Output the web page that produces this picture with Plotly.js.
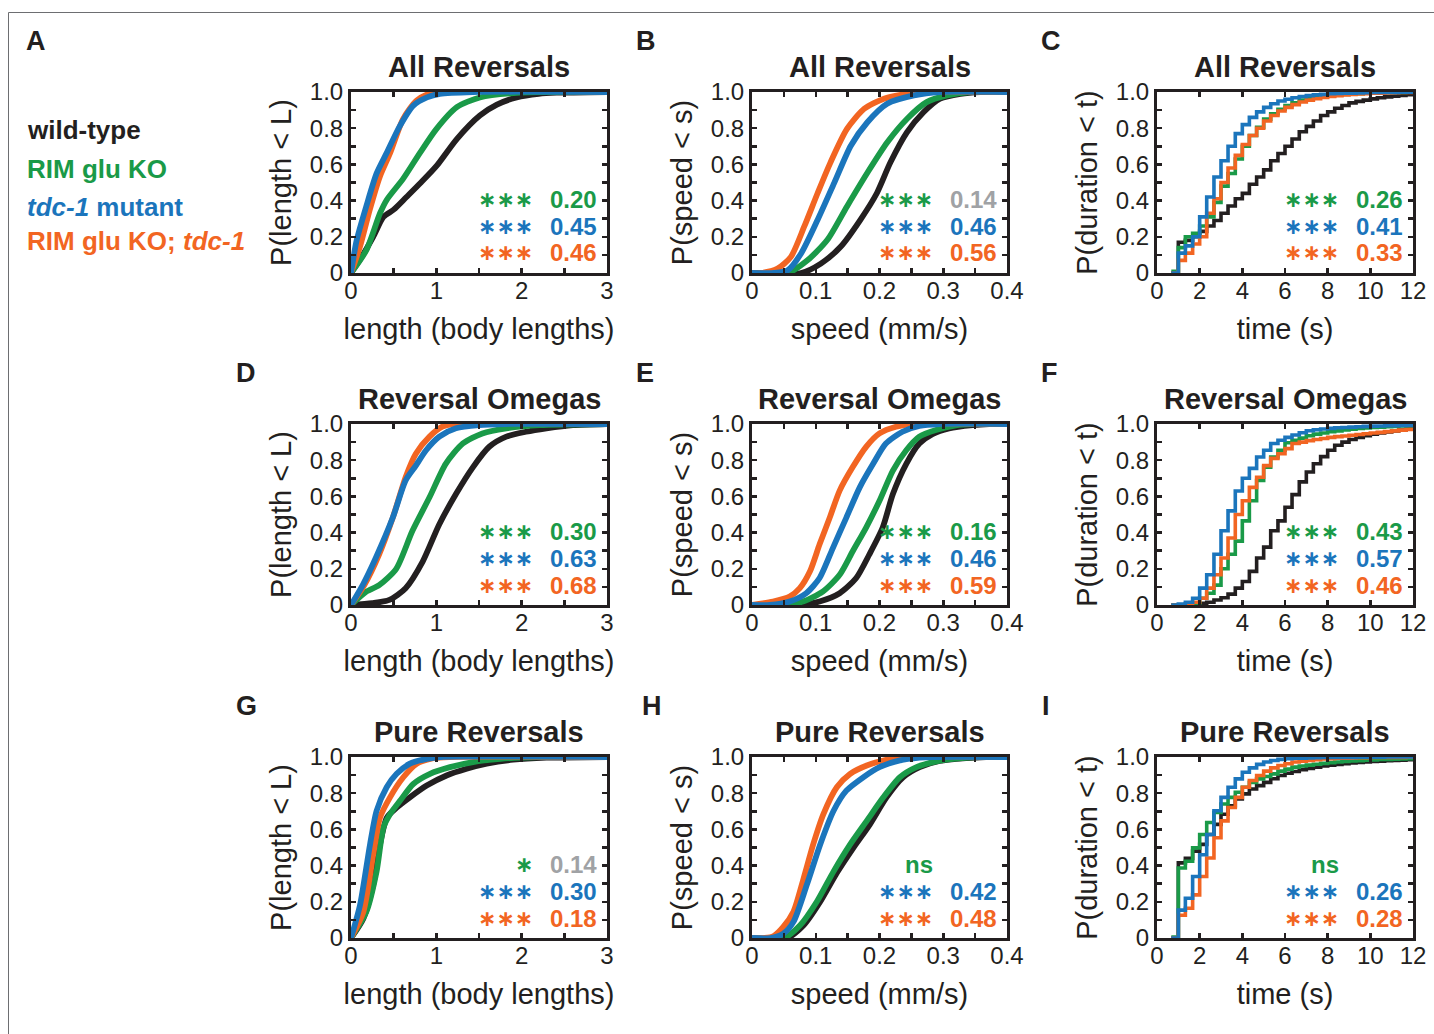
<!DOCTYPE html>
<html>
<head>
<meta charset="utf-8">
<script src="https://cdn.plot.ly/plotly-3.0.1.min.js"></script>
<style>html,body{margin:0;padding:0;background:#fff;}#chart{width:1434px;height:1034px;}</style>
</head>
<body>
<div id="chart"></div>
<script>
// ---------------- DATA ----------------
const genotypes = ['wild-type', 'RIM glu KO', 'tdc-1 mutant', 'RIM glu KO; tdc-1'];
const panelLetters = ['A','B','C','D','E','F','G','H','I'];
const rowTitles = ['All Reversals', 'Reversal Omegas', 'Pure Reversals'];
const xTitles = ['length (body lengths)', 'speed (mm/s)', 'time (s)'];
const yTitles = ['P(length &lt; L)', 'P(speed &lt; s)', 'P(duration &lt; t)'];

const lengthTicks = [0, 0.5, 1, 1.5, 2, 2.5, 3];
const lengthTickText = ['0', '', '1', '', '2', '', '3'];
const speedTicks = [0, 0.05, 0.1, 0.15, 0.2, 0.25, 0.3, 0.35, 0.4];
const speedTickText = ['0', '', '0.1', '', '0.2', '', '0.3', '', '0.4'];
const timeTicks = [0, 2, 4, 6, 8, 10, 12];
const probTicks = [0, 0.1, 0.2, 0.3, 0.4, 0.5, 0.6, 0.7, 0.8, 0.9, 1];
const probTickText = ['0', '', '0.2', '', '0.4', '', '0.6', '', '0.8', '', '1.0'];

// Panel A: length, All Reversals
const A_wt_x  = [0,0.1,0.26,0.38,0.5,0.65,0.82,1.0,1.24,1.51,1.71,1.94,2.2,2.41,3.0];
const A_wt_y  = [0,0.07,0.2,0.31,0.35,0.42,0.5,0.59,0.74,0.87,0.93,0.97,0.99,0.996,1];
const A_glu_x = [0,0.18,0.34,0.42,0.61,0.81,1.0,1.24,1.51,1.98,3.0];
const A_glu_y = [0,0.126,0.33,0.405,0.52,0.665,0.795,0.916,0.97,0.996,1];
const A_tdc_x = [0,0.066,0.18,0.3,0.42,0.57,0.73,0.89,1.04,1.43,3.0];
const A_tdc_y = [0,0.18,0.37,0.55,0.665,0.81,0.925,0.97,0.99,1,1];
const A_dbl_x = [0,0.105,0.22,0.34,0.46,0.61,0.77,0.96,3.0];
const A_dbl_y = [0,0.145,0.35,0.535,0.665,0.85,0.953,0.996,1];

// Panel B: speed, All Reversals
const B_wt_x  = [0,0.077,0.108,0.139,0.17,0.196,0.217,0.243,0.269,0.295,0.327,0.358,0.4];
const B_wt_y  = [0,0,0.052,0.145,0.294,0.442,0.61,0.777,0.888,0.963,0.99,1,1];
const B_glu_x = [0,0.056,0.087,0.118,0.149,0.181,0.212,0.243,0.274,0.306,0.342,0.4];
const B_glu_y = [0,0,0.07,0.182,0.368,0.554,0.721,0.851,0.944,0.981,1,1];
const B_tdc_x = [0,0.035,0.056,0.077,0.103,0.129,0.155,0.181,0.212,0.254,0.295,0.4];
const B_tdc_y = [0,0,0.015,0.108,0.294,0.498,0.703,0.833,0.935,0.981,1,1];
const B_dbl_x = [0,0.014,0.04,0.061,0.082,0.103,0.123,0.149,0.176,0.207,0.243,0.269,0.4];
const B_dbl_y = [0,0,0.024,0.089,0.257,0.442,0.61,0.796,0.907,0.963,0.99,1,1];

// Duration step times (s), shared by panels C, F, I
const durSteps = [0.67,1,1.33,1.67,2,2.33,2.67,3,3.33,3.67,4,4.33,4.67,5,5.33,5.67,6,6.33,6.67,7,7.33,7.67,8,8.33,8.67,9,9.33,9.67,10,10.33,10.67,11,11.33,11.67,12];

// Panel C: duration, All Reversals
const C_wt  = [0,0.17,0.18,0.20,0.23,0.26,0.29,0.33,0.37,0.41,0.44,0.49,0.53,0.57,0.62,0.66,0.70,0.74,0.78,0.81,0.84,0.87,0.89,0.91,0.925,0.94,0.948,0.955,0.962,0.968,0.973,0.977,0.981,0.985,0.988];
const C_glu = [0.01,0.14,0.20,0.22,0.26,0.31,0.39,0.48,0.55,0.63,0.70,0.76,0.805,0.85,0.88,0.905,0.925,0.94,0.955,0.965,0.972,0.977,0.981,0.984,0.987,0.989,0.991,0.993,0.994,0.995,0.996,0.997,0.998,0.999,1];
const C_tdc = [0,0.11,0.15,0.20,0.31,0.42,0.53,0.62,0.70,0.77,0.82,0.86,0.89,0.915,0.935,0.95,0.96,0.968,0.975,0.98,0.984,0.987,0.99,0.992,0.993,0.994,0.995,0.996,0.997,0.997,0.998,0.998,0.999,0.999,1];
const C_dbl = [0,0.07,0.11,0.16,0.20,0.33,0.41,0.50,0.58,0.65,0.71,0.76,0.80,0.84,0.87,0.895,0.915,0.93,0.945,0.955,0.963,0.97,0.975,0.98,0.984,0.987,0.989,0.991,0.993,0.994,0.995,0.996,0.997,0.998,0.999];

// Panel D: length, Reversal Omegas
const D_wt_x  = [0,0.25,0.45,0.64,0.84,1.035,1.23,1.43,1.62,1.82,2.05,2.29,2.6,3.0];
const D_wt_y  = [0,0.01,0.028,0.093,0.24,0.446,0.613,0.762,0.874,0.93,0.957,0.976,0.994,1];
const D_glu_x = [0,0.18,0.33,0.53,0.72,0.92,1.11,1.31,1.54,1.82,2.21,3.0];
const D_glu_y = [0,0.074,0.11,0.2,0.41,0.595,0.78,0.892,0.948,0.976,0.994,1];
const D_tdc_x = [0,0.137,0.29,0.49,0.64,0.76,0.88,1.035,1.23,1.5,1.8,3.0];
const D_tdc_y = [0,0.11,0.26,0.483,0.688,0.77,0.855,0.93,0.976,0.994,1,1];
const D_dbl_x = [0,0.156,0.33,0.49,0.64,0.76,0.92,1.07,1.19,3.0];
const D_dbl_y = [0,0.11,0.28,0.483,0.706,0.836,0.93,0.985,1,1];

// Panel E: speed, Reversal Omegas
const E_wt_x  = [0,0.075,0.106,0.1375,0.1635,0.184,0.205,0.221,0.242,0.2625,0.283,0.309,0.346,0.372,0.4];
const E_wt_y  = [0,0,0.019,0.065,0.149,0.279,0.428,0.613,0.78,0.892,0.944,0.976,0.994,1,1];
const E_glu_x = [0,0.049,0.08,0.111,0.1375,0.158,0.179,0.2,0.221,0.242,0.2625,0.2885,0.32,0.345,0.4];
const E_glu_y = [0,0,0.019,0.074,0.167,0.297,0.428,0.576,0.743,0.855,0.93,0.967,0.993,1,1];
const E_tdc_x = [0,0.028,0.059,0.085,0.106,0.127,0.148,0.169,0.19,0.21,0.236,0.2625,0.294,0.4];
const E_tdc_y = [0,0,0.019,0.065,0.149,0.316,0.483,0.65,0.78,0.892,0.957,0.989,1,1];
const E_dbl_x = [0,0.033,0.059,0.075,0.091,0.106,0.122,0.1375,0.158,0.179,0.2,0.226,0.252,0.4];
const E_dbl_y = [0,0.019,0.046,0.093,0.186,0.335,0.483,0.632,0.762,0.874,0.948,0.985,1,1];

// Panel F: duration, Reversal Omegas
const F_wt  = [0,0,0.003,0.006,0.01,0.015,0.028,0.04,0.06,0.093,0.13,0.186,0.26,0.32,0.41,0.465,0.54,0.61,0.68,0.735,0.78,0.82,0.855,0.883,0.90,0.914,0.925,0.935,0.943,0.95,0.956,0.962,0.967,0.972,0.976];
const F_glu = [0,0,0.003,0.01,0.037,0.065,0.11,0.20,0.28,0.353,0.465,0.576,0.688,0.762,0.818,0.855,0.896,0.91,0.922,0.935,0.944,0.95,0.957,0.962,0.967,0.971,0.975,0.978,0.981,0.983,0.985,0.987,0.989,0.991,0.993];
const F_tdc = [0,0.005,0.015,0.037,0.093,0.167,0.28,0.41,0.52,0.63,0.70,0.755,0.818,0.855,0.892,0.91,0.926,0.939,0.952,0.963,0.968,0.972,0.976,0.979,0.981,0.983,0.985,0.987,0.988,0.989,0.99,0.991,0.992,0.993,0.994];
const F_dbl = [0,0,0.005,0.015,0.037,0.093,0.167,0.26,0.37,0.50,0.576,0.65,0.706,0.77,0.81,0.836,0.864,0.892,0.90,0.908,0.914,0.92,0.926,0.93,0.934,0.938,0.942,0.946,0.95,0.954,0.958,0.962,0.966,0.97,0.974];

// Panel G: length, Pure Reversals
const G_wt_x  = [0,0.145,0.26,0.34,0.42,0.535,0.69,0.887,1.12,1.355,1.59,1.9,2.29,3.0];
const G_wt_y  = [0,0.108,0.294,0.517,0.665,0.72,0.777,0.842,0.898,0.935,0.963,0.985,0.996,1];
const G_glu_x = [0,0.18,0.3,0.38,0.457,0.574,0.73,0.926,1.16,1.43,1.75,2.2,3.0];
const G_glu_y = [0,0.145,0.368,0.61,0.684,0.758,0.851,0.907,0.944,0.972,0.99,1,1];
const G_tdc_x = [0,0.105,0.223,0.3,0.418,0.535,0.69,0.887,1.05,3.0];
const G_tdc_y = [0,0.18,0.517,0.703,0.833,0.907,0.963,0.99,1,1];
const G_dbl_x = [0,0.145,0.26,0.34,0.457,0.613,0.77,0.965,1.15,3.0];
const G_dbl_y = [0,0.145,0.46,0.665,0.777,0.888,0.963,0.993,1,1];

// Panel H: speed, Pure Reversals
const H_wt_x  = [0,0.055,0.081,0.107,0.133,0.159,0.185,0.211,0.237,0.263,0.294,0.336,0.367,0.4];
const H_wt_y  = [0,0,0.07,0.2,0.359,0.498,0.628,0.777,0.888,0.944,0.978,0.994,1,1];
const H_glu_x = [0,0.05,0.0755,0.1016,0.128,0.154,0.18,0.206,0.232,0.258,0.284,0.315,0.357,0.4];
const H_glu_y = [0,0,0.07,0.2,0.368,0.517,0.647,0.777,0.888,0.944,0.972,0.99,1,1];
const H_tdc_x = [0,0.029,0.049,0.065,0.086,0.107,0.128,0.148,0.1745,0.2,0.232,0.263,0.284,0.4];
const H_tdc_y = [0,0,0.024,0.089,0.294,0.517,0.703,0.814,0.888,0.944,0.981,0.996,1,1];
const H_dbl_x = [0,0.02,0.034,0.049,0.065,0.081,0.096,0.112,0.133,0.154,0.18,0.211,0.237,0.4];
const H_dbl_y = [0,0,0.011,0.061,0.145,0.33,0.517,0.684,0.833,0.907,0.953,0.985,1,1];

// Panel I: duration, Pure Reversals
const I_wt  = [0,0.415,0.44,0.48,0.517,0.572,0.628,0.684,0.73,0.768,0.796,0.823,0.842,0.86,0.88,0.898,0.91,0.92,0.93,0.937,0.944,0.95,0.955,0.959,0.963,0.967,0.97,0.972,0.975,0.977,0.979,0.981,0.983,0.985,0.987];
const I_glu = [0.005,0.387,0.424,0.498,0.572,0.638,0.693,0.74,0.777,0.805,0.833,0.86,0.879,0.892,0.907,0.922,0.933,0.944,0.95,0.955,0.96,0.965,0.969,0.972,0.975,0.978,0.98,0.982,0.984,0.986,0.987,0.988,0.989,0.99,0.991];
const I_tdc = [0,0.154,0.22,0.34,0.46,0.572,0.703,0.777,0.833,0.879,0.916,0.94,0.959,0.972,0.981,0.987,0.99,0.993,0.994,0.995,0.996,0.997,0.997,0.998,0.998,0.998,0.999,0.999,0.999,0.999,1,1,1,1,1];
const I_dbl = [0,0.126,0.164,0.238,0.34,0.442,0.554,0.647,0.721,0.777,0.833,0.87,0.898,0.922,0.94,0.953,0.963,0.972,0.977,0.981,0.985,0.989,0.991,0.993,0.994,0.995,0.996,0.996,0.997,0.997,0.998,0.998,0.998,0.999,0.999];

// Significance vs wild-type (rows: RIM glu KO, tdc-1, RIM glu KO; tdc-1) and effect sizes
const statStars = [
  ['***','***','***'], ['***','***','***'], ['***','***','***'],
  ['***','***','***'], ['***','***','***'], ['***','***','***'],
  ['*','***','***'],   ['ns','***','***'],  ['ns','***','***']
];
const statValues = [
  ['0.20','0.45','0.46'], ['0.14','0.46','0.56'], ['0.26','0.41','0.33'],
  ['0.30','0.63','0.68'], ['0.16','0.46','0.59'], ['0.43','0.57','0.46'],
  ['0.14','0.30','0.18'], ['','0.42','0.48'],     ['','0.26','0.28']
];
// effect sizes printed in grey (small effect): [panelIndex, row]
const mutedStats = [[1,0],[6,0]];

// ---------------- STYLE / LAYOUT ----------------
const W = 1434, H = 1034;
const FONT = 'Liberation Sans, Arial, Helvetica, sans-serif';
const INK = '#231f20';
const COLORS = ['#231f20', '#1a9a48', '#1b75bc', '#f26522'];
const GREY = '#a0a2a5';
const colPx = [[351, 607], [752, 1007], [1157, 1413]];
const rowPx = [[92, 273], [424, 605], [757, 938]];
const fx = p => p / W;
const fy = p => 1 - p / H;

const smoothSets = {
  0: [[A_wt_x,A_wt_y],[A_glu_x,A_glu_y],[A_tdc_x,A_tdc_y],[A_dbl_x,A_dbl_y]],
  1: [[B_wt_x,B_wt_y],[B_glu_x,B_glu_y],[B_tdc_x,B_tdc_y],[B_dbl_x,B_dbl_y]],
  3: [[D_wt_x,D_wt_y],[D_glu_x,D_glu_y],[D_tdc_x,D_tdc_y],[D_dbl_x,D_dbl_y]],
  4: [[E_wt_x,E_wt_y],[E_glu_x,E_glu_y],[E_tdc_x,E_tdc_y],[E_dbl_x,E_dbl_y]],
  6: [[G_wt_x,G_wt_y],[G_glu_x,G_glu_y],[G_tdc_x,G_tdc_y],[G_dbl_x,G_dbl_y]],
  7: [[H_wt_x,H_wt_y],[H_glu_x,H_glu_y],[H_tdc_x,H_tdc_y],[H_dbl_x,H_dbl_y]]
};
const stepSets = {
  2: [C_wt, C_glu, C_tdc, C_dbl],
  5: [F_wt, F_glu, F_tdc, F_dbl],
  8: [I_wt, I_glu, I_tdc, I_dbl]
};
const drawOrder = [0, 1, 3, 2]; // black, green, orange, blue on top

const traces = [];
const layout = {
  width: W, height: H,
  margin: {l: 0, r: 0, t: 0, b: 0},
  paper_bgcolor: '#ffffff', plot_bgcolor: '#ffffff',
  showlegend: false,
  font: {family: FONT, color: INK},
  annotations: [],
  shapes: [{type: 'rect', xref: 'paper', yref: 'paper',
            x0: fx(8.5), y0: fy(12.5), x1: fx(W + 10), y1: fy(H + 10),
            line: {color: '#6d6e71', width: 1}, fillcolor: 'rgba(0,0,0,0)'}]
};

for (let p = 0; p < 9; p++) {
  const row = Math.floor(p / 3), col = p % 3;
  const n = p + 1;
  const xa = 'x' + (n === 1 ? '' : n), ya = 'y' + (n === 1 ? '' : n);
  const xKey = 'xaxis' + (n === 1 ? '' : n), yKey = 'yaxis' + (n === 1 ? '' : n);

  if (smoothSets[p]) {
    drawOrder.forEach(s => {
      const [xs, ys] = smoothSets[p][s];
      traces.push({x: xs, y: ys, type: 'scatter', mode: 'lines', name: genotypes[s],
        line: {color: COLORS[s], width: 5.8, shape: 'spline', smoothing: 0.7},
        xaxis: xa, yaxis: ya, hoverinfo: 'skip'});
    });
  } else {
    drawOrder.forEach(s => {
      traces.push({x: durSteps, y: stepSets[p][s], type: 'scatter', mode: 'lines', name: genotypes[s],
        line: {color: COLORS[s], width: 3.6, shape: 'hv'},
        xaxis: xa, yaxis: ya, hoverinfo: 'skip'});
    });
  }

  const axCommon = {
    showline: true, linecolor: INK, linewidth: 3, mirror: 'allticks',
    ticks: 'inside', ticklen: 5, tickwidth: 2.5, tickcolor: INK,
    showgrid: false, zeroline: false, fixedrange: true,
    tickfont: {family: FONT, size: 24, color: INK},
    automargin: false
  };
  let xr, xt, xtt;
  if (col === 0) { xr = [0, 3]; xt = lengthTicks; xtt = lengthTickText; }
  else if (col === 1) { xr = [0, 0.4]; xt = speedTicks; xtt = speedTickText; }
  else { xr = [0, 12]; xt = timeTicks; xtt = timeTicks.map(String); }

  layout[xKey] = Object.assign({}, axCommon, {
    domain: [fx(colPx[col][0]), fx(colPx[col][1])], anchor: ya,
    range: xr, tickmode: 'array', tickvals: xt, ticktext: xtt,
    ticklabelstandoff: -6,
    title: {text: xTitles[col], font: {family: FONT, size: 29, color: INK}, standoff: 16}
  });
  layout[yKey] = Object.assign({}, axCommon, {
    domain: [fy(rowPx[row][1]), fy(rowPx[row][0])], anchor: xa,
    range: [0, 1], tickmode: 'array', tickvals: probTicks, ticktext: probTickText,
    title: {text: yTitles[col], font: {family: FONT, size: 29, color: INK}, standoff: 10}
  });

  // panel title
  layout.annotations.push({xref: 'paper', yref: 'paper', showarrow: false,
    x: fx((colPx[col][0] + colPx[col][1]) / 2), y: fy(rowPx[row][0] - 25),
    xanchor: 'center', yanchor: 'middle',
    text: '<b>' + rowTitles[row] + '</b>', font: {family: FONT, size: 29, color: INK}});

  // stats
  const offs = [74, 47, 20];
  for (let r = 0; r < 3; r++) {
    const sColor = COLORS[r + 1];
    const muted = mutedStats.some(m => m[0] === p && m[1] === r);
    const star = statStars[p][r];
    const isNs = star === 'ns';
    layout.annotations.push({xref: 'paper', yref: 'paper', showarrow: false,
      x: fx(colPx[col][1] - 73), y: fy(rowPx[row][1] - offs[r]),
      xanchor: 'right', yanchor: 'middle', borderpad: 0,
      text: isNs ? '<b>ns</b>' : star.replace(/\*/g, '\u2217'),
      font: {family: isNs ? FONT : 'DejaVu Sans, ' + FONT, size: isNs ? 24 : 22, color: sColor,
             weight: isNs ? 'normal' : 'bold'}});
    if (statValues[p][r]) {
      layout.annotations.push({xref: 'paper', yref: 'paper', showarrow: false,
        x: fx(colPx[col][1] - 9), y: fy(rowPx[row][1] - offs[r]),
        xanchor: 'right', yanchor: 'middle', borderpad: 0,
        text: '<b>' + statValues[p][r] + '</b>',
        font: {family: FONT, size: 24, color: muted ? GREY : sColor}});
    }
  }
}

// panel letters
const letterPos = [[36,41],[646,41],[1051,41],[246,373],[645,373],[1049,373],[246,706],[652,706],[1046,706]];
panelLetters.forEach((L, i) => {
  layout.annotations.push({xref: 'paper', yref: 'paper', showarrow: false,
    x: fx(letterPos[i][0]), y: fy(letterPos[i][1]), xanchor: 'center', yanchor: 'middle',
    text: '<b>' + L + '</b>', font: {family: FONT, size: 27, color: INK}});
});

// genotype key
const keyText = ['<b>wild-type</b>', '<b>RIM glu KO</b>', '<b><i>tdc-1</i> mutant</b>', '<b>RIM glu KO; <i>tdc-1</i></b>'];
const keyY = [130, 169, 207, 241];
keyText.forEach((t, i) => {
  layout.annotations.push({xref: 'paper', yref: 'paper', showarrow: false,
    x: fx(25), y: fy(keyY[i]), xanchor: 'left', yanchor: 'middle',
    text: t, font: {family: FONT, size: 26, color: COLORS[i]}});
});

Plotly.newPlot('chart', traces, layout, {displayModeBar: false, staticPlot: true});
</script>
</body>
</html>
